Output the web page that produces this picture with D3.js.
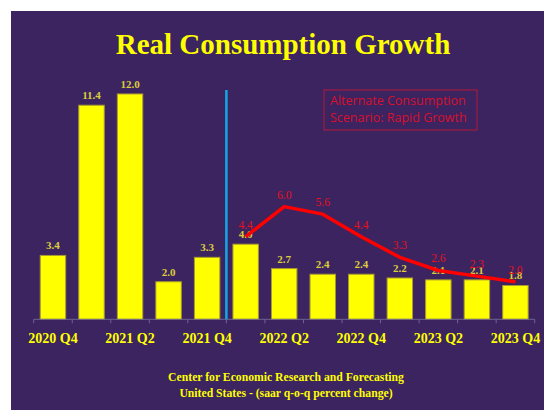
<!DOCTYPE html>
<html>
<head>
<meta charset="utf-8">
<script src="https://cdn.jsdelivr.net/npm/d3@7"></script>
<style>
  body { margin: 0; background: #fff; }
  svg { display: block; }
</style>
</head>
<body>
<div id="chart"></div>
<script>
// chart data
var quarters = ['2020 Q4', '2021 Q1', '2021 Q2', '2021 Q3', '2021 Q4', '2022 Q1', '2022 Q2',
                '2022 Q3', '2022 Q4', '2023 Q1', '2023 Q2', '2023 Q3', '2023 Q4'];
var baseGrowth = [3.4, 11.4, 12.0, 2.0, 3.3, 4.0, 2.7, 2.4, 2.4, 2.2, 2.1, 2.1, 1.8];
var altQuarters = ['2022 Q1', '2022 Q2', '2022 Q3', '2022 Q4', '2023 Q1', '2023 Q2', '2023 Q3', '2023 Q4'];
var altGrowth = [4.4, 6.0, 5.6, 4.4, 3.3, 2.6, 2.3, 2.0];
var tickLabels = ['2020 Q4', '2021 Q2', '2021 Q4', '2022 Q2', '2022 Q4', '2023 Q2', '2023 Q4'];
var forecastStart = '2022 Q1';

var W = 544, H = 410;
var purple = '#3b2460';
var serif = '"Liberation Serif", "DejaVu Serif", serif';

var svg = d3.select('#chart').append('svg')
    .attr('width', W)
    .attr('height', H);

// panel background
svg.append('rect')
    .attr('x', 11).attr('y', 11)
    .attr('width', W - 11).attr('height', H - 11)
    .attr('fill', purple);

var x = d3.scaleBand()
    .domain(quarters)
    .range([33.7, 534.7])
    .paddingInner(0.34)
    .paddingOuter(0.17);

var y = d3.scaleLinear()
    .domain([0, 14])
    .range([319.3, 56.4]);

// title
svg.append('text')
    .attr('x', 283).attr('y', 54)
    .attr('text-anchor', 'middle')
    .attr('font-family', serif)
    .attr('font-weight', 'bold')
    .attr('font-size', 29)
    .attr('fill', '#ffff00')
    .text('Real Consumption Growth');

// bars
svg.selectAll('.bar')
    .data(baseGrowth)
    .enter().append('rect')
    .attr('class', 'bar')
    .attr('x', function (d, i) { return x(quarters[i]); })
    .attr('y', function (d) { return y(d); })
    .attr('width', x.bandwidth())
    .attr('height', function (d) { return y(0) - y(d); })
    .attr('fill', '#ffff00')
    .attr('stroke', '#a89a30')
    .attr('stroke-width', 1);

// bar value labels
svg.selectAll('.bar-label')
    .data(baseGrowth)
    .enter().append('text')
    .attr('class', 'bar-label')
    .attr('x', function (d, i) { return x(quarters[i]) + x.bandwidth() / 2; })
    .attr('y', function (d) { return y(d) - 6; })
    .attr('text-anchor', 'middle')
    .attr('font-family', serif)
    .attr('font-weight', 'bold')
    .attr('font-size', 11)
    .attr('fill', '#dccd3a')
    .text(function (d) { return d.toFixed(1); });

// x axis
var xAxis = d3.axisBottom(x)
    .tickValues(tickLabels)
    .tickSize(0)
    .tickPadding(14);

var axisG = svg.append('g')
    .attr('transform', 'translate(0,' + y(0) + ')')
    .call(xAxis);
axisG.select('.domain').attr('stroke', '#6f6390');
axisG.selectAll('text')
    .attr('font-family', serif)
    .attr('font-weight', 'bold')
    .attr('font-size', 14)
    .attr('fill', '#ffff00');

// tick marks on band edges
var edges = quarters.map(function (q) { return x(q) - x.step() * x.paddingInner() / 2; });
edges.push(x.range()[1]);
axisG.selectAll('.edge')
    .data(edges)
    .enter().append('line')
    .attr('class', 'edge')
    .attr('x1', function (d) { return d; })
    .attr('x2', function (d) { return d; })
    .attr('y1', 0).attr('y2', 4)
    .attr('stroke', '#6f6390');
axisG.select('.domain').attr('d', 'M' + x.range()[0] + ',0H' + x.range()[1]);

// forecast divider
var divX = x(forecastStart) - x.step() * x.paddingInner() / 2;
svg.append('line')
    .attr('x1', divX).attr('x2', divX)
    .attr('y1', 90).attr('y2', y(0))
    .attr('stroke', '#12a8e8')
    .attr('stroke-width', 2.5);

// alternate scenario line
var line = d3.line()
    .x(function (d, i) { return x(altQuarters[i]) + x.bandwidth() / 2; })
    .y(function (d) { return y(d); });

svg.append('path')
    .datum(altGrowth)
    .attr('d', line)
    .attr('fill', 'none')
    .attr('stroke', '#ff0000')
    .attr('stroke-width', 3.5)
    .attr('stroke-linejoin', 'round');

svg.selectAll('.alt-label')
    .data(altGrowth)
    .enter().append('text')
    .attr('class', 'alt-label')
    .attr('x', function (d, i) { return x(altQuarters[i]) + x.bandwidth() / 2; })
    .attr('y', function (d) { return y(d) - 8; })
    .attr('text-anchor', 'middle')
    .attr('font-family', serif)
    .attr('font-size', 11.5)
    .attr('fill', '#e8101c')
    .text(function (d) { return d.toFixed(1); });

// legend box
svg.append('rect')
    .attr('x', 324).attr('y', 90)
    .attr('width', 153).attr('height', 40)
    .attr('fill', 'none')
    .attr('stroke', '#b8163a')
    .attr('stroke-width', 1);

svg.append('text')
    .attr('x', 330).attr('y', 105)
    .attr('font-family', '"Open Sans", "Noto Sans", sans-serif')
    .attr('font-size', 12.5)
    .attr('fill', '#d8102c')
    .selectAll('tspan')
    .data(['Alternate Consumption', 'Scenario: Rapid Growth'])
    .enter().append('tspan')
    .attr('x', 330)
    .attr('dy', function (d, i) { return i ? 17 : 0; })
    .text(function (d) { return d; });

// footer
var footer = ['Center for Economic Research and Forecasting', 'United States - (saar q-o-q percent change)'];
svg.selectAll('.foot')
    .data(footer)
    .enter().append('text')
    .attr('class', 'foot')
    .attr('x', 286)
    .attr('y', function (d, i) { return 381 + i * 16; })
    .attr('text-anchor', 'middle')
    .attr('font-family', serif)
    .attr('font-weight', 'bold')
    .attr('font-size', 11.7)
    .attr('fill', '#ffff00')
    .text(function (d) { return d; });
</script>
</body>
</html>
